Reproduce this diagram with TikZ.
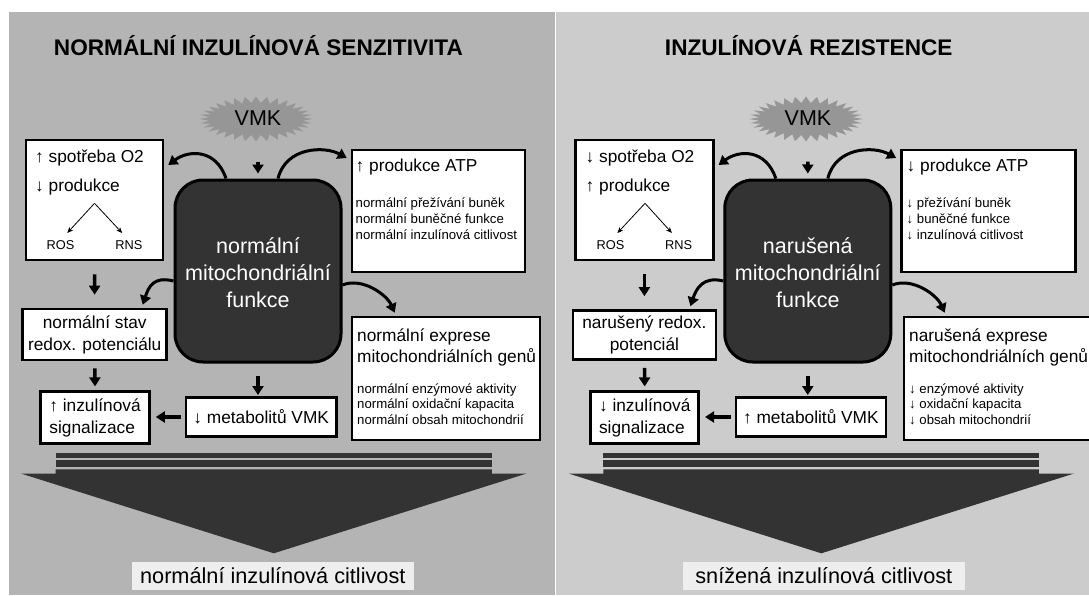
\documentclass[tikz,border=0pt]{standalone}
\usepackage{fontspec}
\setmainfont{Liberation Sans}
\usetikzlibrary{arrows.meta,calc}
\definecolor{panelL}{RGB}{180,180,180}
\definecolor{panelR}{RGB}{204,204,204}
\definecolor{darkfill}{RGB}{51,51,51}
\definecolor{starg}{RGB}{150,150,150}
\definecolor{labelbg}{RGB}{238,238,238}
\tikzset{
  wbox/.style={draw=black, line width=2.6pt, fill=white, inner sep=0pt},
  mitobox/.style={draw=black, line width=3pt, fill=darkfill, rounded corners=28pt, minimum width=166pt, minimum height=182pt, inner sep=0pt},
  mitotext/.style={text=white, font=\fontsize{21.5}{27}\selectfont, align=center, inner sep=0pt},
  bigtxt/.style={font=\fontsize{17.3}{22}\selectfont, inner sep=0pt},
  smalltxt/.style={font=\fontsize{13.2}{16}\selectfont, inner sep=0pt},
  rostxt/.style={font=\fontsize{12.8}{15}\selectfont, inner sep=0pt},
  titletxt/.style={font=\bfseries\fontsize{22.6}{27}\selectfont, inner sep=0pt},
  vmktxt/.style={font=\fontsize{21.5}{26}\selectfont, inner sep=0pt},
  restxt/.style={fill=labelbg, font=\fontsize{21.7}{26}\selectfont, inner sep=0pt, minimum height=28pt},
  fatarrow/.style={line width=3.5pt, -{Triangle[width=11pt,length=9pt]}},
  curvarrow/.style={line width=3pt, -{Triangle[width=11pt,length=9pt]}},
  thinarrow/.style={line width=0.8pt, -{Stealth[width=5pt,length=6pt]}},
  barfill/.style={fill=darkfill},
}
\begin{document}
\begin{tikzpicture}[x=1pt,y=-1pt]
\clip (0,0) rectangle (1089,595);
\fill[white] (0,0) rectangle (1089,595);
\fill[panelL] (8.7,12) rectangle (554.8,595);
\fill[panelR] (556.2,12) rectangle (1089,595);

% ================= LEFT PANEL =================
\node[titletxt] (Ltitle) at (258.4,46) {NORMÁLNÍ INZULÍNOVÁ SENZITIVITA};
\fill[starg] plot[domain=0:64,samples=65] ({256+(57-10*mod(round(\x),2))*cos(\x*5.625)},{119+(22.5-6.5*mod(round(\x),2))*sin(\x*5.625)}) -- cycle;
\node[vmktxt] (LV) at (258,118) {VMK};

\node[wbox, minimum width=137pt, minimum height=120pt] (LO2) at (94.5,200) {};
\node[bigtxt, anchor=base west] (LO2a) at (35,162.5) {↑ spotřeba O2};
\node[bigtxt, anchor=base west] (LO2b) at (35,191) {↓ produkce};
\coordinate (LO2apex) at (94.5,203.3);
\node[rostxt, anchor=base] (LROS) at (60.5,249.5) {ROS};
\node[rostxt, anchor=base] (LRNS) at (129,249.5) {RNS};
\draw[thinarrow, shorten >=10pt] (LO2apex) -- (LROS.north);
\draw[thinarrow, shorten >=10pt] (LO2apex) -- (LRNS.north);

\node[mitobox] (LC) at (258,271) {};
\node[mitotext] (LCt) at (258,273) {normální\\mitochondriální\\funkce};

\node[wbox, minimum width=173pt, minimum height=122pt] (LATP) at (438.5,211) {};
\node[bigtxt, anchor=base west] (LATPa) at (355.5,171.7) {↑ produkce ATP};
\node[smalltxt, anchor=base west] (LATPb) at (355.5,207.5) {normální přežívání buněk};
\node[smalltxt, anchor=base west] (LATPc) at (355.5,223.5) {normální buněčné funkce};
\node[smalltxt, anchor=base west] (LATPd) at (355.5,239.5) {normální inzulínová citlivost};

\node[wbox, minimum width=188pt, minimum height=123pt] (LEXP) at (446,378.5) {};
\node[bigtxt, anchor=base west] (LEXPa) at (357,341) {normální exprese};
\node[bigtxt, anchor=base west] (LEXPb) at (357,362.5) {mitochondriálních genů};
\node[smalltxt, anchor=base west] (LEXPc) at (357,393) {normální enzýmové aktivity};
\node[smalltxt, anchor=base west] (LEXPd) at (357,408.5) {normální oxidační kapacita};
\node[smalltxt, anchor=base west] (LEXPe) at (357,424) {normální obsah mitochondrií};

\node[wbox, bigtxt, align=center, minimum width=144pt, minimum height=51pt] (LRED) at (94.7,334.5) {normální stav\\redox. potenciálu};
\node[wbox, bigtxt, minimum width=150.5pt, minimum height=39.4pt] (LMET) at (261.2,417) {↓ metabolitů VMK};
\node[wbox, bigtxt, align=left, minimum width=108.8pt, minimum height=51.6pt] (LINZ) at (95.1,417.5) {↑ inzulínová\\signalizace};

\fill[barfill] (55.6,452.7) rectangle (491.8,457.7);
\fill[barfill] (55.6,460) rectangle (491.8,466.7);
\fill[barfill] (55.6,469.3) -- (491.8,469.3) -- (491.8,473.5) -- (526.6,473.5) -- (273.8,553.3) -- (20.9,473.5) -- (55.6,473.5) -- cycle;
\node[restxt, minimum width=281.6pt] (LRES) at (272.8,576) {normální inzulínová citlivost};

\draw[fatarrow, shorten <=36pt, shorten >=5pt] (LV.south) -- (LC.north);
\draw[fatarrow, shorten <=13pt, shorten >=13pt] (LO2.south) -- (LRED.north);
\draw[fatarrow, shorten <=7pt, shorten >=4pt] (LRED.south) -- (LINZ.north);
\draw[fatarrow, shorten <=12pt, shorten >=1pt] (LC.south) -- (LC.south |- LMET.north);
\draw[fatarrow, shorten <=3.5pt, shorten >=5pt] (LMET.west) -- (LINZ.east |- LMET.west);
\draw[curvarrow] ($(LC.north)+(-32,0)$) .. controls +(-10,-30) and +(20,-15) .. ($(LO2.east)+(4,-35)$);
\draw[curvarrow] ($(LC.north)+(20,0)$) .. controls +(8,-32) and +(-22,-12) .. ($(LATP.west)+(-4,-53)$);
\draw[curvarrow] ($(LC.west)+(0,10)$) .. controls +(-20,-5) and +(6,-18) .. ($(LRED.north)+(48,-3)$);
\draw[curvarrow] ($(LC.east)+(0,14)$) .. controls +(20,-8) and +(-8,-18) .. ($(LEXP.north west)+(44,-3)$);

% ================= RIGHT PANEL =================
\node[titletxt] (Rtitle) at (808.75,46) {INZULÍNOVÁ REZISTENCE};
\fill[starg] plot[domain=0:64,samples=65] ({806+(57-10*mod(round(\x),2))*cos(\x*5.625)},{119+(22.5-6.5*mod(round(\x),2))*sin(\x*5.625)}) -- cycle;
\node[vmktxt] (RV) at (808,118) {VMK};

\node[wbox, minimum width=137.8pt, minimum height=120pt] (RO2) at (644.4,200) {};
\node[bigtxt, anchor=base west] (RO2a) at (585.5,162.5) {↓ spotřeba O2};
\node[bigtxt, anchor=base west] (RO2b) at (585.5,191) {↑ produkce};
\coordinate (RO2apex) at (645,203.3);
\node[rostxt, anchor=base] (RROS) at (610.6,249.5) {ROS};
\node[rostxt, anchor=base] (RRNS) at (678.6,249.5) {RNS};
\draw[thinarrow, shorten >=10pt] (RO2apex) -- (RROS.north);
\draw[thinarrow, shorten >=10pt] (RO2apex) -- (RRNS.north);

\node[mitobox] (RC) at (807.8,271) {};
\node[mitotext] (RCt) at (807.8,273) {narušená\\mitochondriální\\funkce};

\node[wbox, minimum width=173.8pt, minimum height=122pt] (RATP) at (988.3,211) {};
\node[bigtxt, anchor=base west] (RATPa) at (906.5,171.7) {↓ produkce ATP};
\node[smalltxt, anchor=base west] (RATPb) at (906.5,207.5) {↓ přežívání buněk};
\node[smalltxt, anchor=base west] (RATPc) at (906.5,223.5) {↓ buněčné funkce};
\node[smalltxt, anchor=base west] (RATPd) at (906.5,239.5) {↓ inzulínová citlivost};

\node[wbox, minimum width=196pt, minimum height=123pt] (REXP) at (1002,378.5) {};
\node[bigtxt, anchor=base west] (REXPa) at (909,341) {narušená exprese};
\node[bigtxt, anchor=base west] (REXPb) at (909,362.5) {mitochondriálních genů};
\node[smalltxt, anchor=base west] (REXPc) at (909,393) {↓ enzýmové aktivity};
\node[smalltxt, anchor=base west] (REXPd) at (909,408.5) {↓ oxidační kapacita};
\node[smalltxt, anchor=base west] (REXPe) at (909,424) {↓ obsah mitochondrií};

\node[wbox, bigtxt, align=center, minimum width=143.2pt, minimum height=49pt] (RRED) at (644.4,335) {narušený redox.\\potenciál};
\node[wbox, bigtxt, minimum width=150.2pt, minimum height=39.4pt] (RMET) at (810.9,417) {↑ metabolitů VMK};
\node[wbox, bigtxt, align=left, minimum width=108pt, minimum height=51.6pt] (RINZ) at (644.75,417.5) {↓ inzulínová\\signalizace};

\fill[barfill] (603.3,452.7) rectangle (1038.8,457.7);
\fill[barfill] (603.3,460) rectangle (1038.8,466.7);
\fill[barfill] (603.3,469.3) -- (1038.8,469.3) -- (1038.8,473.5) -- (1074,473.5) -- (821.3,553.3) -- (568.6,473.5) -- (603.3,473.5) -- cycle;
\node[restxt, minimum width=282pt] (RRES) at (823.8,576) {snížená inzulínová citlivost};

\draw[fatarrow, shorten <=36pt, shorten >=5pt] (RV.south) -- (RC.north);
\draw[fatarrow, shorten <=13pt, shorten >=13pt] (RO2.south) -- (RRED.north);
\draw[fatarrow, shorten <=7pt, shorten >=4pt] (RRED.south) -- (RINZ.north);
\draw[fatarrow, shorten <=12pt, shorten >=1pt] (RC.south) -- (RC.south |- RMET.north);
\draw[fatarrow, shorten <=3.5pt, shorten >=5pt] (RMET.west) -- (RINZ.east |- RMET.west);
\draw[curvarrow] ($(RC.north)+(-32,0)$) .. controls +(-10,-30) and +(20,-15) .. ($(RO2.east)+(4,-35)$);
\draw[curvarrow] ($(RC.north)+(20,0)$) .. controls +(8,-32) and +(-22,-12) .. ($(RATP.west)+(-4,-53)$);
\draw[curvarrow] ($(RC.west)+(0,10)$) .. controls +(-20,-5) and +(6,-18) .. ($(RRED.north)+(46,-3)$);
\draw[curvarrow] ($(RC.east)+(0,14)$) .. controls +(20,-8) and +(-8,-18) .. ($(REXP.north west)+(42,-3)$);
\end{tikzpicture}
\end{document}
